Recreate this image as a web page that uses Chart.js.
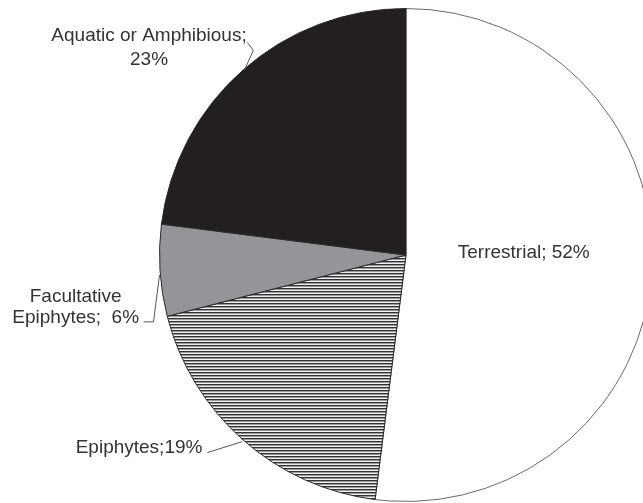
<!DOCTYPE html>
<html>
<head>
<meta charset="utf-8">
<script src="https://cdn.jsdelivr.net/npm/chart.js@4/dist/chart.umd.min.js"></script>
<style>
  html, body { margin: 0; padding: 0; background: #ffffff; overflow: hidden; }
  #wrap { position: absolute; left: 0; top: 0; width: 660px; height: 503px; }
</style>
</head>
<body>
<div id="wrap"><canvas id="c"></canvas></div>
<script>
// ---- data ----
const categories = ["Terrestrial", "Epiphytes", "Facultative Epiphytes", "Aquatic or Amphibious"];
const shares = [52, 19, 6, 23];
const labelLines = [
  ["Terrestrial; 52%"],
  ["Epiphytes;19%"],
  ["Facultative", "Epiphytes;  6%"],
  ["Aquatic or Amphibious;", "23%"]
];

// ---- styles ----
function stripePattern() {
  const p = document.createElement('canvas');
  p.width = 4; p.height = 3;
  const g = p.getContext('2d');
  g.fillStyle = '#333333'; g.fillRect(0, 0, 4, 1);
  g.fillStyle = '#9a9a9a'; g.fillRect(0, 1, 4, 1);
  g.fillStyle = '#efefef'; g.fillRect(0, 2, 4, 1);
  return g.createPattern(p, 'repeat');
}
const fills = ['#ffffff', stripePattern(), '#939598', '#231f20'];

// label layout: text anchor offsets and leader polylines relative to pie centre (px at r=247)
const labelLayout = [
  { align: 'center', x: 118, y: -2, lh: 24, leader: null },
  { align: 'right', x: -204, y: 193, lh: 24, leader: [[-199, 198], [-164, 187]] },
  { align: 'center', x: -331, y: 42, lh: 21, leader: [[-263, 67], [-253, 67], [-247, 20]] },
  { align: 'center', x: -257.5, y: -220, lh: 24, leader: [[-159, -213], [-153, -205], [-162, -185]] }
];

const labelPlugin = {
  id: 'pieLabels',
  afterDatasetsDraw(chart) {
    const ctx = chart.ctx;
    const arc = chart.getDatasetMeta(0).data[0];
    const cx = arc.x, cy = arc.y, s = arc.outerRadius / 247;
    ctx.save();
    ctx.font = '19px "Liberation Sans", Arial, sans-serif';
    ctx.fillStyle = '#333333';
    ctx.textBaseline = 'middle';
    labelLayout.forEach((L, i) => {
      ctx.textAlign = L.align;
      labelLines[i].forEach((t, k) => {
        ctx.fillText(t, cx + L.x * s, cy + L.y * s + k * L.lh);
      });
      if (L.leader) {
        ctx.beginPath();
        ctx.strokeStyle = '#555555';
        ctx.lineWidth = 1;
        L.leader.forEach((p, k) => {
          const px = cx + p[0] * s, py = cy + p[1] * s;
          if (k === 0) ctx.moveTo(px, py); else ctx.lineTo(px, py);
        });
        ctx.stroke();
      }
    });
    ctx.restore();
  }
};

new Chart(document.getElementById('c'), {
  type: 'pie',
  data: {
    labels: categories,
    datasets: [{
      data: shares,
      backgroundColor: fills,
      borderColor: ['#6a6a6a', '#2a2a2a', '#2a2a2a', '#2a2a2a'],
      borderWidth: 1
    }]
  },
  options: {
    responsive: true,
    maintainAspectRatio: false,
    animation: false,
    layout: { padding: { left: 159, top: 8, right: 7, bottom: 1 } },
    plugins: { legend: { display: false }, tooltip: { enabled: false } }
  },
  plugins: [labelPlugin]
});
</script>
</body>
</html>
